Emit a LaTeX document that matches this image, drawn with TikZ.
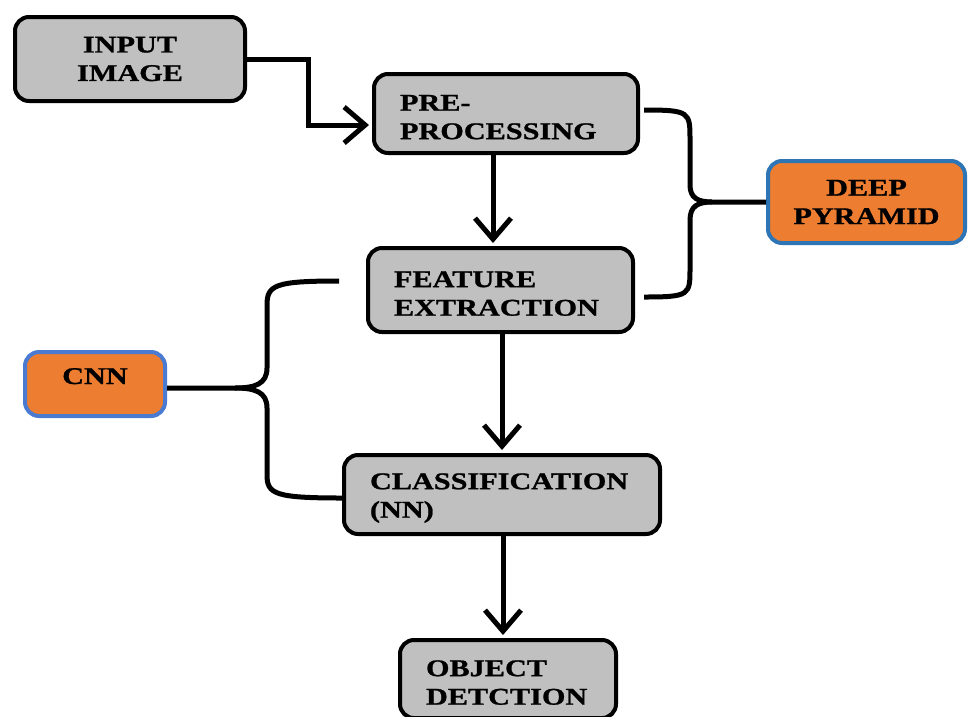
\documentclass[tikz,border=0pt]{standalone}
\usepackage{fontspec}
\newfontfamily\boxfont{Liberation Serif}[FakeStretch=1.26, FakeBold=1]
\usetikzlibrary{arrows.meta}
\definecolor{boxgray}{HTML}{C0C0C0}
\definecolor{boxorange}{HTML}{ED7D31}
\definecolor{boxblue}{HTML}{2E75B6}
\definecolor{cnnblue}{HTML}{4A7BD0}
\tikzset{
  base/.style={rectangle, rounded corners=14pt, line width=4pt, inner ysep=0pt,
    font=\boxfont\bfseries\fontsize{24}{28.5}\selectfont},
  graybox/.style={base, draw=black, fill=boxgray},
  leftbox/.style={graybox, align=left, inner xsep=26pt, text height=23pt},
  orangebox/.style={base, draw=boxblue, fill=boxorange, align=center, inner xsep=0pt},
  conn/.style={line width=5pt, -{Straight Barb[length=21pt,width=36pt]}, shorten >=3pt},
  brace/.style={line width=5pt}
}
\begin{document}
\begin{tikzpicture}[x=1pt,y=-1pt]
\clip (0,0) rectangle (969,716);
\fill[white] (0,0) rectangle (969,716);

\node[graybox, align=center, inner xsep=0pt, minimum width=230pt, minimum height=84pt] (inp) at (130,59) {INPUT\\IMAGE};
\node[leftbox, text width=212pt, minimum height=79pt] (pre) at (506,113.5) {PRE-\\PROCESSING};
\node[leftbox, text width=213pt, minimum height=84pt] (feat) at (500.5,290) {FEATURE\\EXTRACTION};
\node[leftbox, text width=264pt, minimum height=79pt] (cls) at (502,494.5) {CLASSIFICATION\\(NN)};
\node[leftbox, text width=164pt, minimum height=78pt] (obj) at (508,679) {OBJECT\\DETCTION};
\node[orangebox, minimum width=197pt, minimum height=82pt] (deep) at (866.5,202) {DEEP\\PYRAMID};
\node[orangebox, draw=cnnblue, minimum width=140pt, minimum height=64pt, text height=10pt, text depth=10pt] (cnn) at (95,384) {CNN};

% flow arrows
\draw[conn] (inp.east) -- ++(61,0) |- ([shift={(0,11.5)}]pre.west);
\draw[conn] ([shift={(-13,0)}]pre.south) -- ([shift={(-13,0)}]pre.south |- feat.north);
\draw[conn] ([shift={(1.5,0)}]feat.south) -- ([shift={(1.5,0)}]feat.south |- cls.north);
\draw[conn] ([shift={(1,0)}]cls.south) -- ([shift={(1,0)}]cls.south |- obj.north);

% right brace to DEEP PYRAMID
\coordinate (rtip) at (712,202);
\draw[brace] ([shift={(4,-3.5)}]pre.east) .. controls (690,110) and (690,112) .. (690,140)
  -- (690,185) .. controls (690,198) and (698,202) .. (rtip)
  -- (deep.west);
\draw[brace] ([shift={(9,7)}]feat.east) .. controls (690,297) and (690,295) .. (690,268)
  -- (690,220) .. controls (690,206) and (698,202) .. (rtip);

% left brace to CNN
\coordinate (ltip) at (235,388);
\draw[brace] ([shift={(-27,-9)}]feat.west) .. controls (275,281) and (267,285) .. (267,305)
  -- (267,368) .. controls (267,384) and (255,388) .. (ltip)
  -- (cnn.east |- ltip);
\draw[brace] ([shift={(0,3.5)}]cls.west) .. controls (275,498) and (267,494) .. (267,475)
  -- (267,408) .. controls (267,392) and (255,388) .. (ltip);
\end{tikzpicture}
\end{document}
